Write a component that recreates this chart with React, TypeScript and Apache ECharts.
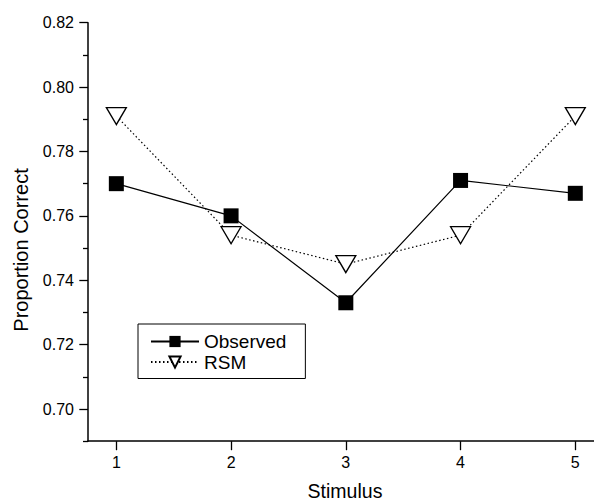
import React, { useEffect, useRef } from "react";
import * as echarts from "echarts";

const stimuli = [1, 2, 3, 4, 5];
const observed = [0.770, 0.760, 0.733, 0.771, 0.767];
const rsm = [0.791, 0.754, 0.745, 0.754, 0.791];
const yMajorTicks = [0.70, 0.72, 0.74, 0.76, 0.78, 0.80, 0.82];
const yMinorTicks = [0.69, 0.71, 0.73, 0.75, 0.77, 0.79, 0.81];
const xTicks = [1, 2, 3, 4, 5];

const FONT = "Liberation Sans, Arial, sans-serif";

export default function App() {
  const ref = useRef<HTMLDivElement>(null);
  useEffect(() => {
    if (!ref.current) return;
    const chart = echarts.init(ref.current, null, { renderer: "svg" });
    const axisLine = { show: true, lineStyle: { color: "#000", width: 1.5 } };
    chart.setOption({
      animation: false,
      backgroundColor: "#fff",
      grid: { left: 88, right: 0, top: 22.7, bottom: 60.8 },
      xAxis: {
        type: "value",
        min: 0.753,
        max: 5.163,
        axisLine,
        splitLine: { show: false },
        axisTick: { show: true, length: 9, customValues: xTicks, lineStyle: { color: "#000", width: 1.3 } },
        axisLabel: {
          customValues: xTicks,
          fontSize: 16,
          color: "#000",
          fontFamily: FONT,
          margin: 13,
        },
      },
      yAxis: [
        {
          type: "value",
          position: "left",
          min: 0.69,
          max: 0.82,
          axisLine,
          splitLine: { show: false },
          axisTick: { show: true, length: 8.7, customValues: yMajorTicks, lineStyle: { color: "#000", width: 1.3 } },
          axisLabel: {
            customValues: yMajorTicks,
            formatter: (v: number) => v.toFixed(2),
            fontSize: 16,
            color: "#000",
            fontFamily: FONT,
            margin: 14,
          },
        },
        {
          type: "value",
          position: "left",
          min: 0.69,
          max: 0.82,
          axisLine: { show: false },
          splitLine: { show: false },
          axisTick: { show: true, length: 5, customValues: yMinorTicks, lineStyle: { color: "#000", width: 1.3 } },
          axisLabel: { show: false, customValues: yMinorTicks },
        },
      ],
      legend: {
        orient: "vertical",
        left: 138,
        top: 324,
        padding: [8, 19, 7, 12],
        itemGap: 1.5,
        itemWidth: 48,
        itemHeight: 14,
        backgroundColor: "#fff",
        borderColor: "#000",
        borderWidth: 1,
        borderRadius: 0,
        textStyle: { fontSize: 19, color: "#000", fontFamily: FONT },
        data: ["Observed", "RSM"],
      },
      series: [
        {
          name: "Observed",
          type: "line",
          data: stimuli.map((s, i) => [s, observed[i]]),
          symbol: "rect",
          symbolSize: 15,
          color: "#000",
          itemStyle: { color: "#000" },
          lineStyle: { color: "#000", width: 1.2, type: "solid" },
          z: 3,
        },
        {
          name: "RSM",
          type: "line",
          data: stimuli.map((s, i) => [s, rsm[i]]),
          symbol: "triangle",
          symbolRotate: 180,
          symbolSize: [20, 17],
          color: "#000",
          itemStyle: { color: "#fff", borderColor: "#000", borderWidth: 1.3 },
          lineStyle: { color: "#000", width: 1.2, type: [1.5, 2.5] },
          z: 2,
        },
      ],
      graphic: [
        {
          type: "text",
          x: 21,
          y: 250,
          rotation: Math.PI / 2,
          style: {
            text: "Proportion Correct",
            fontSize: 20,
            fontFamily: FONT,
            fill: "#000",
            align: "center",
            verticalAlign: "middle",
          },
        },
        {
          type: "text",
          x: 345,
          y: 491,
          style: {
            text: "Stimulus",
            fontSize: 19.5,
            fontFamily: FONT,
            fill: "#000",
            align: "center",
            verticalAlign: "middle",
          },
        },
      ],
    });
    return () => chart.dispose();
  }, []);
  return (
    <div
      ref={ref}
      style={{ position: "fixed", left: 0, top: 0, width: 594, height: 502 }}
    />
  );
}
